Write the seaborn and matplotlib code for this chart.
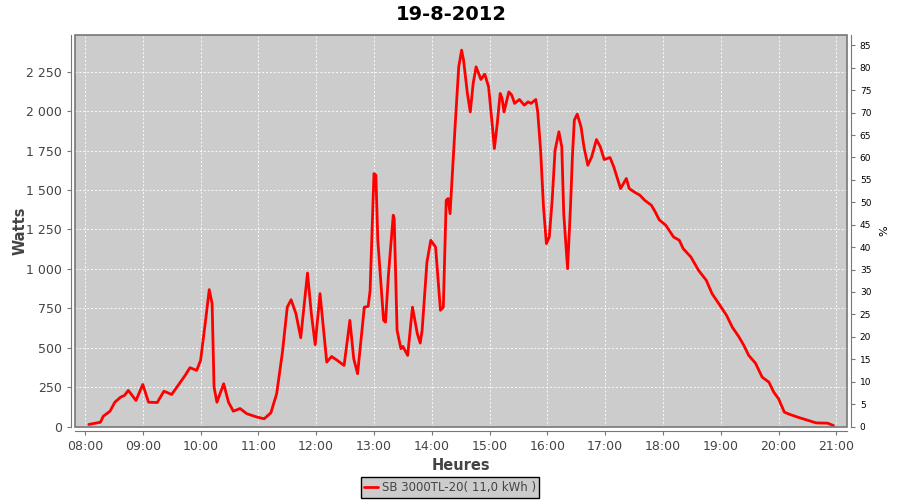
import seaborn as sns
import matplotlib.pyplot as plt
import matplotlib.dates as mdates
import pandas as pd
from matplotlib.ticker import FuncFormatter
from matplotlib.patches import Rectangle

times = ['08:04', '08:16', '08:19', '08:26', '08:31', '08:37', '08:41', '08:45', '08:53', '09:00',
         '09:06', '09:15', '09:22', '09:30', '09:39', '09:44', '09:49', '09:56', '10:00', '10:05',
         '10:09', '10:12', '10:14', '10:17', '10:24', '10:29', '10:34', '10:41', '10:48', '10:59',
         '11:06', '11:13', '11:19', '11:25', '11:30', '11:34', '11:39', '11:44', '11:51', '11:55',
         '11:59', '12:04', '12:11', '12:16', '12:22', '12:29', '12:35', '12:39', '12:43', '12:50',
         '12:54', '12:56', '13:00', '13:02', '13:04', '13:10', '13:12', '13:15', '13:20', '13:21',
         '13:24', '13:28', '13:30', '13:35', '13:40', '13:45', '13:48', '13:50', '13:55', '13:59',
         '14:04', '14:09', '14:12', '14:15', '14:17', '14:19', '14:24', '14:28', '14:31', '14:33',
         '14:37', '14:40', '14:43', '14:46', '14:48', '14:51', '14:55', '14:59', '15:03', '15:05',
         '15:08', '15:11', '15:13', '15:15', '15:20', '15:23', '15:26', '15:31', '15:36', '15:40',
         '15:43', '15:48', '15:50', '15:53', '15:56', '15:59', '16:02', '16:05', '16:08', '16:12',
         '16:15', '16:17', '16:21', '16:24', '16:26', '16:28', '16:31', '16:35', '16:38', '16:42',
         '16:46', '16:51', '16:55', '16:59', '17:05', '17:09', '17:16', '17:22', '17:25', '17:30',
         '17:36', '17:41', '17:48', '17:52', '17:56', '18:03', '18:11', '18:17', '18:21', '18:29',
         '18:37', '18:45', '18:51', '18:58', '19:06', '19:12', '19:19', '19:24', '19:29', '19:36',
         '19:43', '19:50', '19:55', '20:00', '20:06', '20:12', '20:20', '20:28', '20:39', '20:51',
         '20:57']
watts = [13, 27, 65, 97, 154, 186, 197, 229, 165, 267,
         154, 152, 224, 203, 281, 324, 373, 356, 419, 662,
         868, 779, 250, 154, 271, 154, 97, 114, 81, 59,
         49, 87, 208, 472, 757, 804, 716, 563, 973, 716,
         519, 843, 408, 444, 419, 387, 673, 430, 335, 757,
         762, 863, 1604, 1594, 1181, 673, 662, 959, 1340, 1321,
         610, 493, 508, 451, 757, 589, 529, 610, 1043, 1181,
         1138, 737, 757, 1435, 1446, 1350, 1879, 2281, 2387, 2324,
         2112, 1995, 2176, 2281, 2250, 2201, 2235, 2154, 1900, 1763,
         1922, 2112, 2081, 1995, 2122, 2102, 2049, 2074, 2038, 2059,
         2049, 2074, 1995, 1752, 1392, 1160, 1202, 1435, 1752, 1869,
         1773, 1350, 1001, 1392, 1710, 1943, 1981, 1900, 1773, 1657,
         1710, 1820, 1773, 1693, 1706, 1646, 1509, 1573, 1509, 1488,
         1467, 1435, 1403, 1361, 1312, 1276, 1202, 1181, 1128, 1075,
         990, 927, 842, 779, 705, 630, 567, 514, 451, 402,
         313, 281, 218, 176, 91, 76, 59, 44, 23, 21,
         6]

day = '2012-08-19 '
df = pd.DataFrame({'Heure': pd.to_datetime([day + t for t in times]), 'Watts': watts})

sns.set_style('white', {'axes.facecolor': '#cccccc'})
plt.rcParams['font.family'] = ['DejaVu Sans']

grey = '#777777'
txt = '#444444'

fig = plt.figure(figsize=(9, 5), dpi=100)
ax = fig.add_axes([0.0837, 0.147, 0.857, 0.783])
sns.lineplot(data=df, x='Heure', y='Watts', color='red', lw=2.0, ax=ax, legend=False,
             solid_joinstyle='round')

ax.set_xlim(pd.Timestamp(day + '07:50'), pd.Timestamp(day + '21:10:40'))
ax.xaxis.set_major_locator(mdates.HourLocator())
ax.xaxis.set_major_formatter(mdates.DateFormatter('%H:%M'))
ax.set_ylim(0, 2483)
ax.set_yticks(range(0, 2251, 250))
ax.yaxis.set_major_formatter(FuncFormatter(lambda v, p: f'{int(v):,}'.replace(',', ' ')))
ax.set_axisbelow(True)
ax.grid(True, color='white', linestyle=(0, (2, 2)), linewidth=0.7, alpha=0.9)

for s in ['left', 'bottom']:
    ax.spines[s].set_position(('outward', 3))
    ax.spines[s].set_color(grey)
ax.spines['top'].set_visible(False)
ax.spines['right'].set_visible(False)
ax.add_patch(Rectangle((0, 0), 1, 1, transform=ax.transAxes, fill=False,
                       edgecolor=grey, lw=1.2, clip_on=False, zorder=5))
ax.tick_params(left=True, bottom=True, length=3, color=grey, labelsize=9, labelcolor=txt)
ax.set_xlabel('Heures', fontsize=10.5, fontweight='bold', color=txt, labelpad=4)
ax.set_ylabel('Watts', fontsize=10.5, fontweight='bold', color=txt, labelpad=-1)

ax2 = ax.twinx()
ax2.set_ylim(0, 87.3)
ax2.set_yticks(range(0, 86, 5))
for s in ['left', 'bottom', 'top']:
    ax2.spines[s].set_visible(False)
ax2.spines['right'].set_position(('outward', 3))
ax2.spines['right'].set_color(grey)
ax2.tick_params(right=True, length=3, color=grey, labelsize=6.5, labelcolor='black')
ax2.set_ylabel('%', fontsize=8, color='black', labelpad=6)

fig.text(0.501, 0.972, '19-8-2012', ha='center', va='center', fontsize=14,
         fontweight='bold', color='black')

fig.legend([ax.get_lines()[0]], ['SB 3000TL-20( 11,0 kWh )'], loc='center',
           bbox_to_anchor=(0.5, 0.025), frameon=True, fancybox=False, edgecolor='black',
           fontsize=8.5, handlelength=1.2, borderpad=0.3, handletextpad=0.3, labelcolor=txt,
           framealpha=1)

plt.savefig('out.png', dpi=100)
